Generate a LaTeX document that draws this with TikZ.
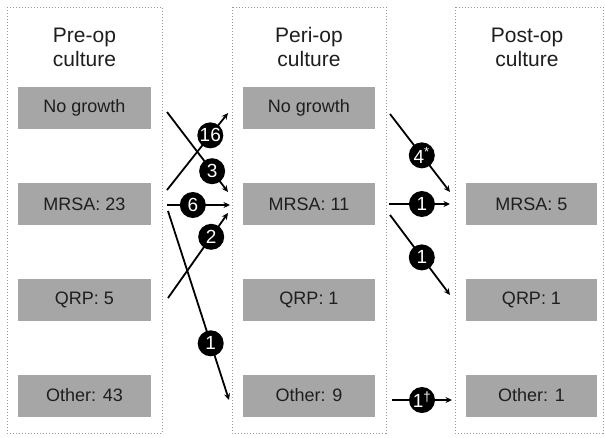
\documentclass[tikz,border=0pt]{standalone}
\usepackage{fontspec}
\setmainfont{Liberation Sans}
\usetikzlibrary{arrows.meta}
\definecolor{boxgray}{RGB}{166,166,166}
\definecolor{txt}{RGB}{30,30,30}
\definecolor{dashgray}{RGB}{150,150,150}
\tikzset{
  panel/.style={draw=dashgray, line width=1pt, dash pattern=on 1.4pt off 1.6pt},
  gbox/.style={fill=boxgray, draw=none, minimum height=42pt, text=txt, font=\fontsize{18}{20}\selectfont, inner sep=0pt},
  head/.style={text=txt, font=\fontsize{21}{24}\selectfont, anchor=base, inner sep=0pt},
  flow/.style={line width=1.8pt, -{Stealth[length=6.5pt,width=6pt]}},
  num/.style={circle, fill=black, text=white, minimum size=26pt, inner sep=0pt, font=\fontsize{19}{21}\selectfont}
}
\begin{document}
\begin{tikzpicture}[x=1pt,y=-1pt]
\useasboundingbox (0,0) rectangle (605,437);
% panels
\draw[panel] (7,7) rectangle (162,433);
\draw[panel] (232,7) rectangle (386,433);
\draw[panel] (455,7) rectangle (603,433);
% headers
\node[head] (h1a) at (84.5,42) {Pre-op};
\node[head] (h1b) at (84.5,66) {culture};
\node[head] (h2a) at (309,42) {Peri-op};
\node[head] (h2b) at (309,66) {culture};
\node[head] (h3a) at (527,42) {Post-op};
\node[head] (h3b) at (527,66) {culture};
% left boxes
\node[gbox, minimum width=133pt] (l1) at (84.5,107.5) {No growth};
\node[gbox, minimum width=133pt] (l2) at (84.5,204) {MRSA: 23};
\node[gbox, minimum width=133pt] (l3) at (84.5,299.5) {QRP: 5};
\node[gbox, minimum width=133pt] (l4) at (84.5,395.5) {Other: 43};
% middle boxes
\node[gbox, minimum width=132pt] (m1) at (309,107.5) {No growth};
\node[gbox, minimum width=132pt] (m2) at (309,204) {MRSA: 11};
\node[gbox, minimum width=132pt] (m3) at (309,299.5) {QRP: 1};
\node[gbox, minimum width=132pt] (m4) at (309,395.5) {Other: 9};
% right boxes
\node[gbox, minimum width=131pt] (r2) at (531.5,204) {MRSA: 5};
\node[gbox, minimum width=131pt] (r3) at (531.5,299.5) {QRP: 1};
\node[gbox, minimum width=131pt] (r4) at (531.5,395.5) {Other: 1};
% connector end points
\coordinate (a3s) at (167,112);  \coordinate (a3e) at (228,192);
\coordinate (a16s) at (167,190); \coordinate (a16e) at (228,113);
\coordinate (a6s) at (167,205);  \coordinate (a6e) at (230,205);
\coordinate (a2s) at (168,298);  \coordinate (a2e) at (228,213);
\coordinate (a1s) at (168,211);  \coordinate (a1e) at (229,400);
\coordinate (b4s) at (390,114);  \coordinate (b4e) at (450,192);
\coordinate (b1s) at (389,204);  \coordinate (b1e) at (450,204);
\coordinate (c1s) at (390,215);  \coordinate (c1e) at (450,295);
\coordinate (d1s) at (392,400);  \coordinate (d1e) at (452,400);
% flows
\draw[flow] (a3s) -- (a3e) node[num, pos=0.74] (n3) {3};
\draw[flow] (a16s) -- (a16e) node[num, pos=0.71] (n16) {16};
\draw[flow] (a6s) -- (a6e) node[num, pos=0.41] (n6) {6};
\draw[flow] (a2s) -- (a2e) node[num, pos=0.72] (n2) {2};
\draw[flow] (a1s) -- (a1e) node[num, pos=0.7] (n1) {1};
\draw[flow] (b4s) -- (b4e) node[num, pos=0.53] (n4) {4\textsuperscript{*}};
\draw[flow] (b1s) -- (b1e) node[num, pos=0.54] (nb1) {1};
\draw[flow] (c1s) -- (c1e) node[num, pos=0.53] (nc1) {1};
\draw[flow] (d1s) -- (d1e) node[num, pos=0.5] (nd1) {1\textsuperscript{†}};
\end{tikzpicture}
\end{document}
